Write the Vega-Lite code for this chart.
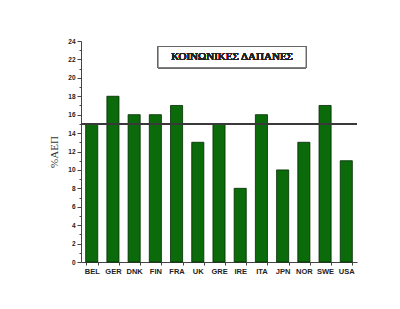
{
  "$schema": "https://vega.github.io/schema/vega-lite/v6.json",
  "width": 276,
  "height": 221,
  "autosize": {"type": "none"},
  "padding": {"left": 81, "top": 41, "right": 43, "bottom": 47},
  "background": "white",
  "config": {"view": {"stroke": null}},
  "data": {"values": [
    {"country": "BEL", "pct": 15},
    {"country": "GER", "pct": 18},
    {"country": "DNK", "pct": 16},
    {"country": "FIN", "pct": 16},
    {"country": "FRA", "pct": 17},
    {"country": "UK", "pct": 13},
    {"country": "GRE", "pct": 15},
    {"country": "IRE", "pct": 8},
    {"country": "ITA", "pct": 16},
    {"country": "JPN", "pct": 10},
    {"country": "NOR", "pct": 13},
    {"country": "SWE", "pct": 17},
    {"country": "USA", "pct": 11}
  ]},
  "layer": [
    {
      "mark": {"type": "bar", "fill": "#0b6b0b", "stroke": "#002a00", "strokeWidth": 0.8},
      "encoding": {
        "x": {"field": "country", "type": "nominal", "sort": null,
          "scale": {"paddingInner": 0.43, "paddingOuter": 0.22},
          "axis": {"title": null, "labelAngle": 0, "labelFont": "Liberation Sans", "labelFontWeight": "bold", "labelFontSize": 7.5, "labelColor": "#222", "labelPadding": 2, "tickBand": "extent", "tickSize": 3, "tickColor": "#444", "domainColor": "#444"}},
        "y": {"field": "pct", "type": "quantitative",
          "scale": {"domain": [0, 24], "nice": false},
          "axis": {"title": "%ΑΕΠ", "titleFont": "Liberation Serif", "titleFontSize": 11, "titleFontWeight": "normal", "titleColor": "#333", "titlePadding": 8,
            "values": [0, 2, 4, 6, 8, 10, 12, 14, 16, 18, 20, 22, 24], "grid": false,
            "labelFont": "Liberation Sans", "labelFontWeight": "bold", "labelFontSize": 6.5, "labelColor": "#222", "tickSize": 4, "tickColor": "#444", "domainColor": "#444", "labelPadding": 2}}
      }
    },
    {
      "mark": {"type": "rule", "color": "#3a3a3a", "strokeWidth": 1.5},
      "encoding": {
        "y": {"datum": 15, "type": "quantitative",
          "axis": {"title": null, "orient": "left", "values": [1, 3, 5, 7, 9, 11, 13, 15, 17, 19, 21, 23], "labels": false, "domain": false, "tickSize": 2, "tickColor": "#444", "grid": false}}
      }
    },
    {
      "mark": {"type": "rect", "fill": "white", "stroke": "#666", "strokeWidth": 1},
      "encoding": {
        "x": {"datum": 3.63, "type": "quantitative", "scale": {"domain": [0, 13], "nice": false}, "axis": null},
        "x2": {"datum": 10.6},
        "y": {"datum": 21.1, "type": "quantitative", "axis": null},
        "y2": {"datum": 23.4}
      }
    },
    {
      "mark": {"type": "text", "text": "ΚΟΙΝΩΝΙΚΕΣ ΔΑΠΑΝΕΣ", "font": "Liberation Serif", "fontSize": 11, "color": "#222", "align": "center", "baseline": "middle"},
      "encoding": {
        "x": {"datum": 7.12, "type": "quantitative", "scale": {"domain": [0, 13], "nice": false}, "axis": null},
        "y": {"datum": 22.25, "type": "quantitative", "axis": null}
      }
    }
  ],
  "resolve": {"scale": {"x": "independent"}, "axis": {"y": "independent"}}
}
